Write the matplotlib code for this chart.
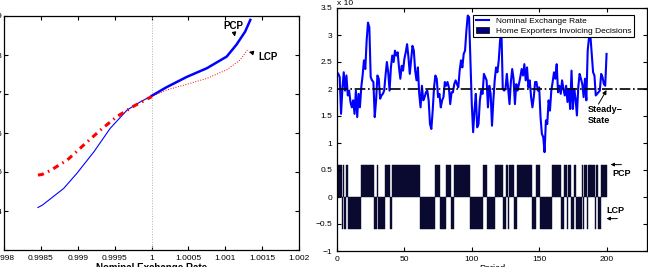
import numpy as np
import matplotlib
matplotlib.use('Agg')
import matplotlib.pyplot as plt
from matplotlib.patches import Patch

# Left panel: price response around the steady state exchange rate
pcp_x = [0.99846, 0.99852, 0.99881, 0.99899, 0.99922, 0.99944, 0.99967, 0.99985,
         1.0, 1.0002, 1.00048, 1.00075, 1.00102, 1.00115, 1.00127, 1.00134]
pcp_y = [0.409, 0.415, 0.458, 0.497, 0.552, 0.612, 0.659, 0.680,
         0.695, 0.717, 0.744, 0.766, 0.796, 0.826, 0.860, 0.890]
lcp_x = [0.99846, 0.99852, 0.99863, 0.99886, 0.99908, 0.99931, 0.99953, 0.99976,
         1.0, 1.0002, 1.00048, 1.00075, 1.00102, 1.0012, 1.0013]
lcp_y = [0.492, 0.494, 0.504, 0.531, 0.569, 0.608, 0.642, 0.669,
         0.693, 0.710, 0.725, 0.740, 0.762, 0.787, 0.813]

# Right panel: simulated nominal exchange rate (periods 0..200)
rate = [2.31, 2.28, 2.22, 1.54, 2.00, 2.31, 1.97, 2.25, 1.88, 1.97,
        1.76, 1.66, 1.79, 1.54, 1.97, 1.48, 1.91, 1.66, 2.03, 2.25,
        2.53, 2.37, 2.90, 3.23, 3.14, 2.22, 2.16, 2.13, 1.48, 1.79,
        2.25, 2.19, 1.82, 1.88, 1.91, 1.97, 2.25, 2.50, 2.31, 1.97,
        2.40, 2.62, 2.50, 2.71, 2.62, 2.68, 2.40, 2.19, 2.43, 2.34,
        2.56, 2.68, 2.83, 2.59, 2.28, 2.53, 2.80, 2.71, 2.34, 2.16,
        2.40, 1.91, 1.66, 2.06, 1.79, 1.85, 1.94, 1.97, 1.79, 1.35,
        1.26, 1.60, 2.03, 2.25, 2.19, 1.85, 1.91, 1.66, 1.79, 1.85,
        2.13, 2.06, 2.13, 2.03, 1.72, 1.94, 1.94, 2.09, 2.16, 2.09,
        2.03, 2.34, 2.53, 2.40, 2.65, 2.71, 3.08, 3.36, 3.33, 2.53,
        1.72, 1.20, 1.60, 1.91, 1.29, 1.35, 1.79, 1.97, 1.91, 2.28,
        2.22, 2.16, 1.66, 2.06, 1.91, 1.32, 1.79, 2.16, 2.40, 2.31,
        2.53, 2.90, 3.08, 2.00, 1.97, 2.00, 2.28, 2.00, 1.72, 2.13,
        2.37, 2.19, 1.72, 2.09, 1.97, 2.09, 2.22, 2.37, 2.25, 2.46,
        2.16, 2.40, 2.03, 2.16, 1.85, 1.66, 1.85, 2.13, 2.13, 1.97,
        2.03, 1.48, 1.17, 1.11, 0.83, 1.42, 1.35, 1.79, 1.60, 1.97,
        2.13, 2.31, 2.19, 2.46, 1.94, 2.06, 1.91, 2.16, 2.00, 1.88,
        2.06, 1.76, 2.00, 1.63, 2.34, 1.63, 2.00, 1.82, 1.51, 2.03,
        2.28, 2.19, 2.09, 1.85, 2.19, 1.79, 2.71, 2.96, 2.99, 2.65,
        2.31, 2.25, 1.88, 1.91, 1.94, 1.97, 2.28, 2.22, 2.09, 2.06,
        2.65]
steady_state = 2.0

# Invoicing decision per period 1..200 (1 = PCP, 0 = LCP)
invoicing = [1, 1, 1, 0, 1, 0, 1, 1, 0, 0, 0, 0, 0, 0, 0, 0, 0, 1, 1, 1,
             1, 1, 1, 1, 1, 1, 1, 0, 0, 1, 0, 0, 0, 0, 0, 1, 1, 1, 1, 0,
             1, 1, 1, 1, 1, 1, 1, 1, 1, 1, 1, 1, 1, 1, 1, 1, 1, 1, 1, 1,
             1, 0, 0, 0, 0, 0, 0, 0, 0, 0, 0, 0, 1, 1, 1, 1, 0, 0, 0, 0,
             1, 1, 1, 1, 0, 0, 1, 1, 1, 1, 1, 1, 1, 1, 1, 1, 1, 1, 0, 0,
             0, 0, 0, 0, 0, 0, 0, 0, 1, 1, 1, 0, 0, 0, 0, 0, 0, 1, 1, 1,
             1, 1, 1, 0, 0, 1, 0, 1, 1, 1, 1, 0, 0, 1, 1, 1, 1, 1, 1, 1,
             1, 1, 1, 1, 0, 0, 0, 1, 1, 1, 0, 0, 0, 0, 0, 0, 0, 0, 0, 1,
             1, 1, 1, 1, 1, 1, 0, 0, 1, 1, 0, 1, 1, 0, 0, 1, 1, 0, 0, 0,
             0, 1, 0, 1, 1, 0, 1, 1, 1, 1, 1, 0, 1, 0, 0, 1, 1, 1, 1, 1]

plt.rcParams.update({
    'font.family': ['Liberation Sans', 'DejaVu Sans'],
    'font.size': 6,
    'xtick.direction': 'in',
    'ytick.direction': 'in',
    'xtick.top': True,
    'ytick.right': True,
    'xtick.major.size': 3,
    'ytick.major.size': 3,
    'xtick.labelsize': 6,
    'ytick.labelsize': 6,
    'axes.linewidth': 0.9,
})

fig = plt.figure(figsize=(6.48, 2.67), dpi=100)
ax1 = fig.add_axes([4 / 648, 17 / 267, 295 / 648, 234 / 267])
ax2 = fig.add_axes([337 / 648, 16 / 267, 310 / 648, 243 / 267])

# ---- Left panel
pcp_x = np.array(pcp_x)
pcp_y = np.array(pcp_y)
lcp_x = np.array(lcp_x)
lcp_y = np.array(lcp_y)
left_p = pcp_x <= 1.0
right_p = pcp_x >= 1.0
left_l = lcp_x <= 1.0
right_l = lcp_x >= 1.0

ax1.axvline(1.0, color='#b0b0b0', linestyle=':', linewidth=0.7)
ax1.plot(pcp_x[left_p], pcp_y[left_p], color='b', linewidth=0.8)
ax1.plot(pcp_x[right_p], pcp_y[right_p], color='b', linewidth=1.8)
ax1.plot(lcp_x[left_l], lcp_y[left_l], color='r', linewidth=2.2,
         linestyle=(0, (2, 1.5, 0.5, 1.5)))
ax1.plot(lcp_x[right_l], lcp_y[right_l], color='r', linewidth=0.7,
         linestyle=':')

ax1.annotate('PCP', xy=(1.00113, 0.847), xytext=(1.00097, 0.866),
             fontsize=7, fontweight='bold',
             arrowprops=dict(arrowstyle='-|>', color='k', lw=0.8,
                             mutation_scale=6, shrinkA=0, shrinkB=0))
ax1.annotate('LCP', xy=(1.00132, 0.808), xytext=(1.00145, 0.788),
             fontsize=7, fontweight='bold',
             arrowprops=dict(arrowstyle='-|>', color='k', lw=0.8,
                             mutation_scale=6, shrinkB=0))

ax1.set_xlim(0.998, 1.002)
ax1.set_ylim(0.3, 0.9)
ax1.set_xticks([0.998, 0.9985, 0.999, 0.9995, 1.0, 1.0005, 1.001, 1.0015, 1.002])
ax1.set_xticklabels(['0.998', '0.9985', '0.999', '0.9995', '1', '1.0005',
                     '1.001', '1.0015', '1.002'])
ax1.set_yticks([0.3, 0.4, 0.5, 0.6, 0.7, 0.8, 0.9])
ax1.set_yticklabels(['', '0.4', '0.5', '0.6', '0.7', '0.8', '0.9'])
ax1.tick_params(axis='y', pad=1)
ax1.set_xlabel('Nominal Exchange Rate', fontsize=7, fontweight='bold',
               labelpad=1)

# ---- Right panel
periods = np.arange(1, len(invoicing) + 1)
heights = np.where(np.array(invoicing) == 1, 0.6, -0.6)
ax2.bar(periods, heights, width=1.0, color='#0a0a30',
        edgecolor='#0a0a30', linewidth=0.3)
line, = ax2.plot(np.arange(len(rate)), rate, color='b', linewidth=1.5)
ax2.axhline(steady_state, color='k', linestyle='-.', linewidth=1.2)

ax2.text(186, 1.52, 'Steady\u2212\nState', fontsize=6.5, fontweight='bold',
         va='center', ha='left', linespacing=1.3)
ax2.annotate('', xy=(200, steady_state - 0.02), xytext=(194, 1.72),
             arrowprops=dict(arrowstyle='-|>', color='k', lw=0.7,
                             mutation_scale=6, shrinkA=0, shrinkB=0))
ax2.annotate('', xy=(203, 0.6), xytext=(211, 0.6),
             arrowprops=dict(arrowstyle='-|>', color='k', lw=0.7,
                             mutation_scale=5, shrinkA=0, shrinkB=0))
ax2.text(204, 0.43, 'PCP', fontsize=6.5, fontweight='bold', va='center')
ax2.text(200, -0.25, 'LCP', fontsize=6.5, fontweight='bold', va='center')
ax2.annotate('', xy=(200, -0.4), xytext=(208, -0.4),
             arrowprops=dict(arrowstyle='-|>', color='k', lw=0.7,
                             mutation_scale=5, shrinkA=0, shrinkB=0))

ax2.set_xlim(0, 230)
ax2.set_ylim(-1, 3.5)
ax2.set_xticks([0, 50, 100, 150, 200])
ax2.set_yticks([-1, -0.5, 0, 0.5, 1, 1.5, 2, 2.5, 3, 3.5])
ax2.set_yticklabels(['\u22121', '\u22120.5', '0', '0.5', '1', '1.5', '2',
                     '2.5', '3', '3.5'])
ax2.set_xlabel('Period', fontsize=6.5, labelpad=1)
ax2.text(0.0, 1.005, 'x 10', transform=ax2.transAxes, fontsize=6,
         va='bottom', ha='left')

# legend patch in MATLAB's navy, like the reference
bar_handle = Patch(facecolor='#000080', edgecolor='k', linewidth=0.5)
leg = ax2.legend([line, bar_handle],
                 ['Nominal Exchange Rate', 'Home Exporters Invoicing Decisions'],
                 loc='upper right', bbox_to_anchor=(0.958, 0.972),
                 fontsize=6.0, frameon=True, fancybox=False, edgecolor='k',
                 framealpha=1, borderpad=0.3, labelspacing=0.15,
                 handlelength=1.6, handleheight=0.8, handletextpad=0.8,
                 borderaxespad=0)
leg.get_frame().set_linewidth(0.8)

fig.savefig('out.png', dpi=100)
